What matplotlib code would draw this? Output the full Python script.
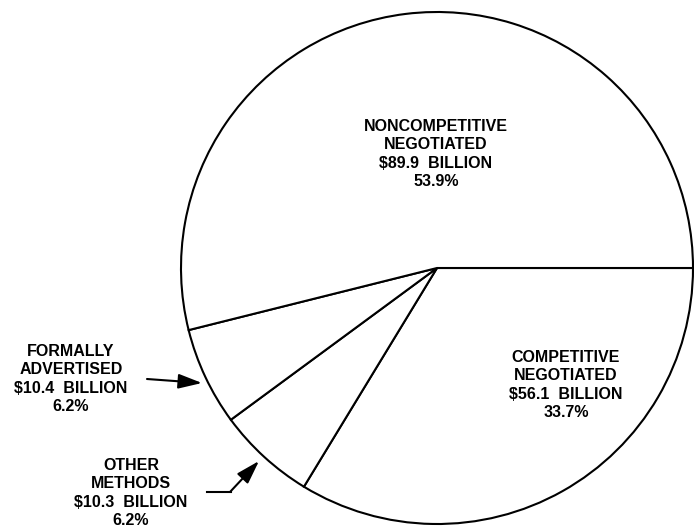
import matplotlib
matplotlib.use('Agg')
import matplotlib.pyplot as plt

labels = ['COMPETITIVE\nNEGOTIATED\n$56.1  BILLION\n33.7%',
          'OTHER\nMETHODS\n$10.3  BILLION\n6.2%',
          'FORMALLY\nADVERTISED\n$10.4  BILLION\n6.2%',
          'NONCOMPETITIVE\nNEGOTIATED\n$89.9  BILLION\n53.9%']
percents = [33.7, 6.2, 6.2, 53.9]

fig = plt.figure(figsize=(6.94, 5.32), dpi=100)
ax = fig.add_axes([0, 0, 1, 1])

ax.pie(percents, center=(437, 264), radius=256, startangle=0, counterclock=False,
       colors=['white'] * 4, wedgeprops=dict(edgecolor='black', linewidth=1.5),
       frame=True)
ax.set_xlim(0, 694)
ax.set_ylim(0, 532)
ax.set_aspect('equal')
ax.axis('off')

fnt = dict(family=['Liberation Sans', 'DejaVu Sans'], fontweight='bold',
           fontsize=11.5, ha='center', va='center', linespacing=1.3)

ax.text(436, 378, labels[3], **fnt)
ax.text(566, 147, labels[0], **fnt)
ax.text(71, 153, labels[2], **fnt)
ax.text(131, 39, labels[1], **fnt)

# arrows for the small slices
arr = dict(arrowstyle='-|>,head_length=0.9,head_width=0.28', color='black', lw=1.5,
           mutation_scale=16, shrinkA=0, shrinkB=0)
ax.annotate('', xy=(202, 149), xytext=(147, 153), arrowprops=arr)
ax.plot([207, 231], [40, 40], color='black', lw=1.5)
ax.annotate('', xy=(259, 71), xytext=(230, 40), arrowprops=arr)

fig.savefig('out.png', dpi=100)
